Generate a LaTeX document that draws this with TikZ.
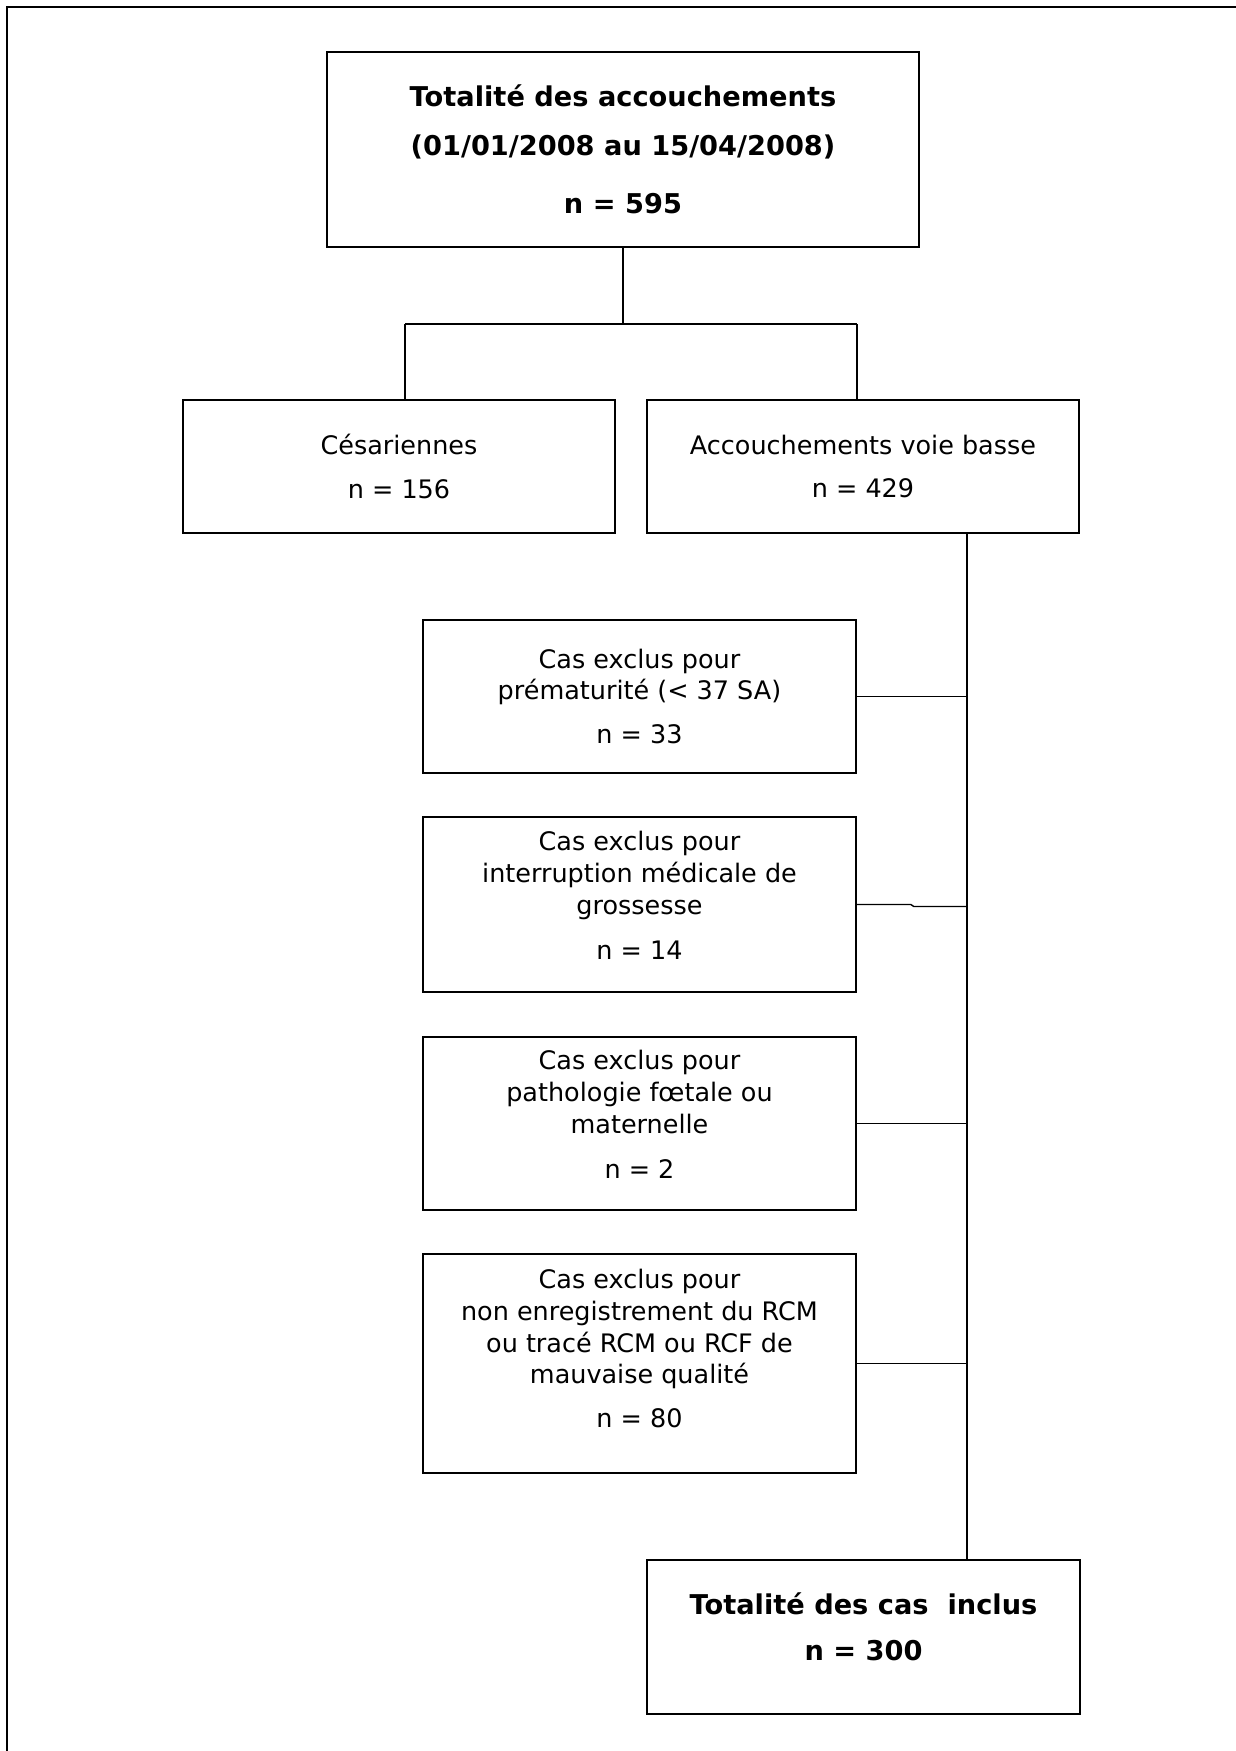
\documentclass[tikz,border=0pt]{standalone}
\usepackage{fontspec}
\setmainfont{DejaVu Sans}
\usetikzlibrary{positioning}

\tikzset{
  box/.style={draw, line width=1pt, align=center, inner sep=0pt,
    font=\fontsize{14.5}{18}\selectfont},
  headbox/.style={box, font=\bfseries\fontsize{15.5}{18}\selectfont},
  link/.style={line width=0.8pt},
}

\begin{document}
\begin{tikzpicture}[x=0.02cm, y=-0.02cm]
\useasboundingbox (0,0) rectangle (1236,1751);
\draw[line width=1.3pt] (7,1751) -- (7,7) -- (1236,7);

\node[headbox, minimum width=11.84cm, minimum height=3.9cm] (total) at (623,149.5)
  {Totalité des accouchements\\[10pt](01/01/2008 au 15/04/2008)\\[15pt]n = 595};

\node[box, minimum width=8.64cm, minimum height=2.66cm] (ces) at (399,466.5)
  {Césariennes\\[7pt]n = 156};
\node[box, minimum width=8.64cm, minimum height=2.66cm] (avb) at (863,466.5)
  {Accouchements voie basse\\[7pt]n = 429};

\node[box, minimum width=8.66cm, minimum height=3.06cm] (prema) at (639.5,696.5)
  {Cas exclus pour\\prématurité (< 37 SA)\\[7pt]n = 33};
\node[box, minimum width=8.66cm, minimum height=3.5cm] (img) at (639.5,904.5)
  {Cas exclus pour\\interruption médicale de\\grossesse\\[8pt]n = 14\\[-8pt]\mbox{}};
\node[box, minimum width=8.66cm, minimum height=3.46cm] (patho) at (639.5,1123.5)
  {Cas exclus pour\\pathologie fœtale ou\\maternelle\\[8pt]n = 2\\[-8pt]\mbox{}};
\node[box, minimum width=8.66cm, minimum height=4.38cm] (rcm) at (639.5,1363.5)
  {Cas exclus pour\\non enregistrement du RCM\\ou tracé RCM ou RCF de\\mauvaise qualité\\[7pt]n = 80\\[-1pt]\mbox{}};

\node[headbox, minimum width=8.66cm, minimum height=3.08cm] (inclus) at (863.5,1637)
  {Totalité des cas\ \ inclus\\[8pt]n = 300\\[-6pt]\mbox{}};

% branches
\coordinate (split) at (623,324);
\coordinate (sl) at (405,324);
\coordinate (sr) at (857,324);
\coordinate (trunk) at (967,0);
\draw[link] (total.south) -- (split);
\draw[link] (sl) -- (sr);
\draw[link] (sl) -- (sl |- ces.north);
\draw[link] (sr) -- (sr |- avb.north);
\draw[link] (trunk |- avb.south) -- (trunk |- inclus.north);

\foreach \n in {prema,patho,rcm}
  \draw[link] (\n.east) -- (\n.east -| trunk);
\draw[link] (img.east) -- ++(54,0) -- ++(3,2) -- ([yshift=-0.04cm]img.east -| trunk);
\end{tikzpicture}
\end{document}
